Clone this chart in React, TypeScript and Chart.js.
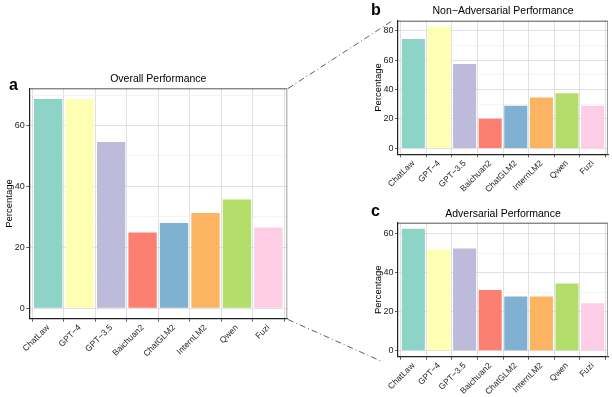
import React, { useEffect, useRef } from "react";
import { Chart, registerables } from "chart.js";

Chart.register(...registerables);

const categories = ["ChatLaw", "GPT\u22124", "GPT\u22123.5", "Baichuan2", "ChatGLM2", "InternLM2", "Qwen", "Fuzi"];
const overallValues = [68.7, 68.7, 54.6, 24.9, 28.0, 31.3, 35.7, 26.5];
const nonAdversarialValues = [74.2, 82.7, 57.3, 20.2, 28.9, 34.5, 37.4, 28.9];
const adversarialValues = [62.6, 52.0, 52.4, 31.2, 27.8, 27.8, 34.5, 24.4];
const barColors = ["#8DD3C7", "#FFFFB3", "#BEBADA", "#FB8072", "#80B1D3", "#FDB462", "#B3DE69", "#FCCDE5"];
const titles = ["Overall Performance", "Non\u2212Adversarial Performance", "Adversarial Performance"];
const yAxisTitle = "Percentage";
const panelLetters = ["a", "b", "c"];

const FONT = "'Liberation Sans', Arial, Helvetica, sans-serif";

type Geo = {
  width: number;
  height: number;
  layoutTop: number;
  titlePadBottom: number;
  rightPad: number;
  yWidth: number;
  xHeight: number;
  yTitlePad: number;
  yMin: number;
  yMax: number;
};

const framePlugin = {
  id: "panelFrame",
  afterDraw(chart: any) {
    const { ctx, chartArea } = chart;
    const { left, right, top, bottom } = chartArea;
    ctx.save();
    ctx.lineWidth = 1;
    ctx.strokeStyle = "#555555";
    ctx.beginPath();
    ctx.moveTo(left, top + 0.5);
    ctx.lineTo(right, top + 0.5);
    ctx.stroke();
    ctx.strokeStyle = "#9a9a9a";
    ctx.beginPath();
    ctx.moveTo(right - 0.5, top);
    ctx.lineTo(right - 0.5, bottom);
    ctx.stroke();
    ctx.restore();
  },
};

function buildConfig(values: number[], title: string, g: Geo): any {
  return {
    type: "bar",
    data: {
      datasets: [
        {
          data: values.map((v, i) => ({ x: i, y: v })),
          backgroundColor: barColors,
          borderWidth: 0,
          barPercentage: 0.9,
          categoryPercentage: 1.0,
        },
      ],
    },
    options: {
      animation: false,
      responsive: false,
      devicePixelRatio: 1,
      layout: { padding: { top: g.layoutTop, right: g.rightPad, left: 0, bottom: 0 } },
      plugins: {
        legend: { display: false },
        tooltip: { enabled: false },
        title: {
          display: true,
          text: title,
          fullSize: false,
          color: "#000000",
          font: { family: FONT, size: 10.5, weight: "normal", lineHeight: 1.2 },
          padding: { top: 0, bottom: g.titlePadBottom },
        },
      },
      scales: {
        x: {
          type: "linear",
          min: -0.6,
          max: 7.6,
          offset: false,
          afterFit: (s: any) => {
            s.height = g.xHeight;
          },
          ticks: {
            stepSize: 1,
            includeBounds: false,
            autoSkip: false,
            maxRotation: 45,
            minRotation: 45,
            padding: 1,
            color: "#222222",
            font: { family: FONT, size: 8.5 },
            callback: (v: number) => (Number.isInteger(v) && categories[v] ? categories[v] : ""),
          },
          grid: {
            color: "#d9d9d9",
            lineWidth: 0.8,
            tickColor: "#333333",
            tickLength: 3,
          },
          border: { display: true, color: "#222222", width: 1.2 },
        },
        y: {
          type: "linear",
          min: g.yMin,
          max: g.yMax,
          afterFit: (s: any) => {
            s.width = g.yWidth;
          },
          ticks: {
            stepSize: 10,
            includeBounds: false,
            padding: 1.5,
            color: "#222222",
            font: { family: FONT, size: 9 },
            callback: (v: number) => (Math.round(v) % 20 === 0 ? String(Math.round(v)) : ""),
          },
          grid: {
            color: (c: any) => (c.tick && Math.round(c.tick.value) % 20 === 0 ? "#d9d9d9" : "#ececec"),
            lineWidth: (c: any) => (c.tick && Math.round(c.tick.value) % 20 === 0 ? 0.8 : 0.6),
            tickColor: (c: any) => (c.tick && Math.round(c.tick.value) % 20 === 0 ? "#333333" : "rgba(0,0,0,0)"),
            tickLength: 3,
          },
          border: { display: true, color: "#222222", width: 1.2 },
          title: {
            display: true,
            text: yAxisTitle,
            color: "#000000",
            font: { family: FONT, size: 9.5, lineHeight: 1.2 },
            padding: { top: g.yTitlePad, bottom: 0 },
          },
        },
      },
    },
    plugins: [framePlugin],
  };
}

function Panel(props: { values: number[]; title: string; geo: Geo; left: number; top: number }) {
  const ref = useRef<HTMLCanvasElement | null>(null);
  useEffect(() => {
    if (!ref.current) return;
    const chart = new Chart(ref.current, buildConfig(props.values, props.title, props.geo));
    return () => chart.destroy();
  }, []);
  return (
    <canvas
      ref={ref}
      width={props.geo.width}
      height={props.geo.height}
      style={{ position: "absolute", left: props.left, top: props.top, width: props.geo.width, height: props.geo.height }}
    />
  );
}

const geoA: Geo = {
  width: 300, height: 397, layoutTop: 72.7, titlePadBottom: 3, rightPad: 12.7,
  yWidth: 29.3, xHeight: 78.3, yTitlePad: 4, yMin: -3.44, yMax: 72.2,
};
const geoB: Geo = {
  width: 242, height: 200, layoutTop: 4.7, titlePadBottom: 3.4, rightPad: 4,
  yWidth: 28, xHeight: 45.7, yTitlePad: 2.5, yMin: -4.0, yMax: 86.7,
};
const geoC: Geo = {
  width: 242, height: 197, layoutTop: 7.7, titlePadBottom: 2.4, rightPad: 4,
  yWidth: 28, xHeight: 40.3, yTitlePad: 2.8, yMin: -3.1, yMax: 65.7,
};

export default function App() {
  return (
    <div style={{ position: "absolute", left: 0, top: 0, width: 612, height: 397, background: "#ffffff", overflow: "hidden" }}>
      <Panel values={overallValues} title={titles[0]} geo={geoA} left={0} top={0} />
      <Panel values={nonAdversarialValues} title={titles[1]} geo={geoB} left={370} top={0} />
      <Panel values={adversarialValues} title={titles[2]} geo={geoC} left={370} top={200} />
      <svg width={612} height={397} style={{ position: "absolute", left: 0, top: 0, pointerEvents: "none" }}>
        <line x1={288} y1={88.5} x2={392} y2={21} stroke="#333" strokeWidth={0.8} strokeDasharray="6 3 1 3" />
        <line x1={288} y1={319.5} x2={383} y2={362} stroke="#333" strokeWidth={0.8} strokeDasharray="6 3 1 3" />
        <text x={9} y={90} fontFamily={FONT} fontWeight={900} fontSize={16} fill="#000">{panelLetters[0]}</text>
        <text x={371} y={15} fontFamily={FONT} fontWeight={900} fontSize={16} fill="#000">{panelLetters[1]}</text>
        <text x={371} y={215.5} fontFamily={FONT} fontWeight={900} fontSize={16} fill="#000">{panelLetters[2]}</text>
      </svg>
    </div>
  );
}
